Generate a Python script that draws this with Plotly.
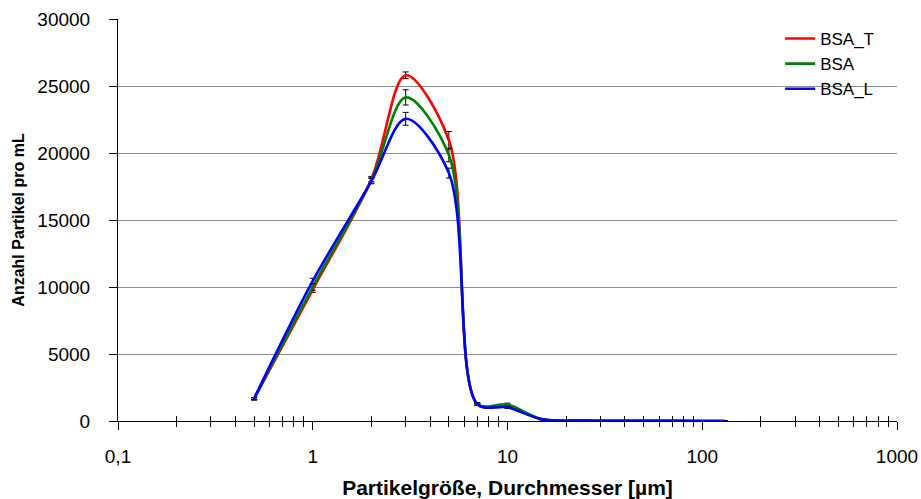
import plotly.graph_objects as go

# ---------------- data ----------------
sizes_um = [0.5, 1, 2, 3, 5, 7, 10, 15, 25, 45, 100, 130]

bsa_t = [1650, 9800, 18050, 25800, 20950, 1250, 1150, 130, 30, 10, 5, 0]
bsa = [1650, 10000, 17950, 24150, 19850, 1280, 1230, 140, 35, 12, 5, 0]
bsa_l = [1680, 10450, 17900, 22550, 18500, 1260, 1020, 120, 30, 10, 5, 0]

err_t = [80, 200, 200, 250, 650, 80, 80, 30, 10, 5, 2, 0]
err_bsa = [80, 250, 200, 570, 500, 80, 100, 30, 10, 5, 2, 0]
err_l = [80, 200, 200, 480, 370, 80, 80, 30, 10, 5, 2, 0]

series_names = ["BSA_T", "BSA", "BSA_L"]
series_values = [bsa_t, bsa, bsa_l]
series_errors = [err_t, err_bsa, err_l]
series_colors = ["#FF0000", "#008000", "#0000FF"]

x_tickvals = [0.1, 1, 10, 100, 1000]
x_ticktext = ["0,1", "1", "10", "100", "1000"]
y_tickvals = [0, 5000, 10000, 15000, 20000, 25000, 30000]
y_ticktext = ["0", "5000", "10000", "15000", "20000", "25000", "30000"]

minor_vals = [m * 10 ** e for e in range(-1, 3) for m in range(2, 10)]

FONT = "Arial, Liberation Sans, sans-serif"

fig = go.Figure()
for name, vals, errs, col in zip(series_names, series_values, series_errors, series_colors):
    fig.add_trace(go.Scatter(
        x=sizes_um, y=vals, name=name, mode="lines",
        line=dict(color=col, width=2.6, shape="spline", smoothing=0.9),
        error_y=dict(type="data", array=errs, visible=True, color="black",
                     thickness=1, width=3),
    ))

# invisible trace so the overlay axis (crossing minor ticks) is drawn
fig.add_trace(go.Scatter(x=[1], y=[0], xaxis="x2", mode="none",
                         showlegend=False, hoverinfo="skip"))

fig.update_layout(
    width=921, height=499,
    margin=dict(l=118, r=24, t=19, b=78, autoexpand=False),
    paper_bgcolor="white", plot_bgcolor="white",
    font=dict(family=FONT, size=19, color="black"),
    showlegend=True,
    legend=dict(x=0.85, y=0.995, xanchor="left", yanchor="top",
                bgcolor="rgba(0,0,0,0)", font=dict(size=17),
                tracegroupgap=0),
    xaxis=dict(
        type="log", range=[-1, 3], automargin=False,
        tickvals=x_tickvals, ticktext=x_ticktext,
        ticks="outside", ticklen=8, tickcolor="black", tickwidth=1,
        showline=True, linecolor="black", linewidth=1,
        showgrid=False, zeroline=False,
        ticklabelstandoff=10,
        tickfont=dict(size=19),
        minor=dict(tickvals=minor_vals, ticks="outside", ticklen=5,
                   tickcolor="black", tickwidth=1, showgrid=False),
        title=dict(text="<b>Partikelgröße, Durchmesser [µm]</b>",
                   font=dict(size=21), standoff=14),
    ),
    xaxis2=dict(
        type="log", range=[-1, 3], overlaying="x", anchor="y", side="bottom",
        tickvals=[], ticks="", automargin=False,
        showticklabels=False, showgrid=False, zeroline=False, showline=False,
        minor=dict(tickvals=minor_vals, ticks="inside", ticklen=5,
                   tickcolor="black", tickwidth=1, showgrid=False),
    ),
    yaxis=dict(
        range=[0, 30000], tickvals=y_tickvals, ticktext=y_ticktext,
        automargin=False,
        ticks="outside", ticklen=8, tickcolor="black", tickwidth=1,
        showline=True, linecolor="black", linewidth=1,
        showgrid=True, gridcolor="#8C8C8C", gridwidth=1,
        zeroline=False,
        ticklabelstandoff=15,
        tickfont=dict(size=19),
        title=dict(text="<b>Anzahl Partikel pro mL</b>", font=dict(size=16),
                   standoff=8),
    ),
)

fig.write_html("out.html")
